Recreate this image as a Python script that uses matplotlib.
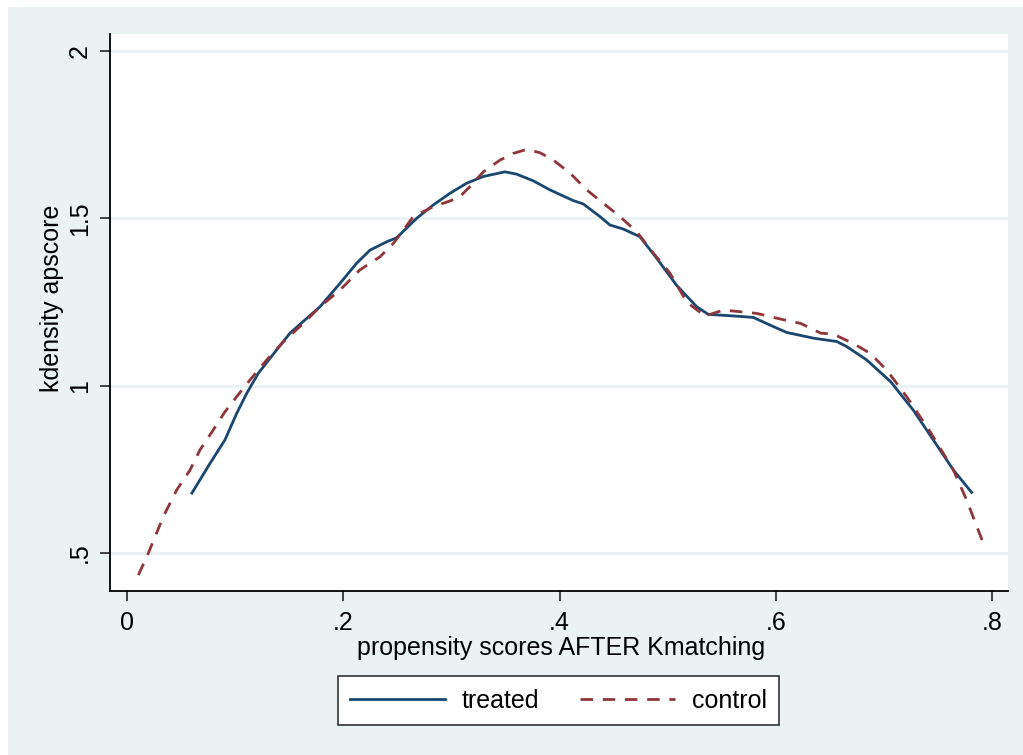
import matplotlib
matplotlib.use("Agg")
import matplotlib.pyplot as plt
from matplotlib.patches import Rectangle
from matplotlib.lines import Line2D

plt.rcParams['font.family'] = ['Liberation Sans', 'DejaVu Sans']

# Data
treated_x = [0.060, 0.0768, 0.0906, 0.1014, 0.1107, 0.1214, 0.1384, 0.1507, 0.1785,
             0.1970, 0.2124, 0.2247, 0.2401, 0.2494, 0.2678, 0.2832, 0.2987, 0.3141,
             0.3295, 0.3495, 0.3603, 0.3757, 0.3911, 0.4127, 0.4219, 0.4374, 0.4466,
             0.4589, 0.4743, 0.4897, 0.5082, 0.5267, 0.5375, 0.5576, 0.5791, 0.5946,
             0.6100, 0.6346, 0.6562, 0.6654, 0.6839, 0.7061, 0.7270, 0.7455, 0.7641,
             0.7810]
treated_y = [0.679, 0.768, 0.838, 0.917, 0.977, 1.037, 1.107, 1.157, 1.236,
             1.306, 1.366, 1.405, 1.430, 1.442, 1.500, 1.540, 1.575, 1.605,
             1.625, 1.639, 1.632, 1.612, 1.585, 1.553, 1.543, 1.505, 1.480,
             1.468, 1.445, 1.381, 1.300, 1.236, 1.213, 1.209, 1.204, 1.181,
             1.159, 1.142, 1.132, 1.117, 1.077, 1.012, 0.927, 0.838, 0.748,
             0.681]

control_x = [0.0105, 0.0197, 0.0336, 0.0459, 0.0583, 0.0675, 0.0798, 0.0906, 0.1014,
             0.1137, 0.1292, 0.1445, 0.1630, 0.1785, 0.1970, 0.2154, 0.2339, 0.2463,
             0.2647, 0.2832, 0.2987, 0.3079, 0.3171, 0.3295, 0.3449, 0.3572, 0.3696,
             0.3819, 0.3942, 0.4097, 0.4251, 0.4404, 0.4559, 0.4713, 0.4867, 0.5021,
             0.5175, 0.5344, 0.5514, 0.5668, 0.5822, 0.6044, 0.6229, 0.6414, 0.6531,
             0.6716, 0.6870, 0.7024, 0.7209, 0.7425, 0.7641, 0.7764, 0.7918]
control_y = [0.434, 0.499, 0.609, 0.688, 0.748, 0.808, 0.868, 0.922, 0.967,
             1.017, 1.077, 1.131, 1.186, 1.236, 1.286, 1.346, 1.385, 1.425,
             1.505, 1.535, 1.552, 1.565, 1.595, 1.639, 1.674, 1.694, 1.706,
             1.696, 1.674, 1.635, 1.585, 1.545, 1.505, 1.460, 1.396, 1.336,
             1.250, 1.208, 1.226, 1.221, 1.216, 1.199, 1.186, 1.157, 1.154,
             1.126, 1.097, 1.047, 0.967, 0.863, 0.748, 0.658, 0.529]

x_ticks = [0, 0.2, 0.4, 0.6, 0.8]
x_tick_labels = ["0", ".2", ".4", ".6", ".8"]
y_ticks = [0.5, 1, 1.5, 2]
y_tick_labels = [".5", "1", "1.5", "2"]

W, H = 1023, 755
BG = "#EAF2F3"
NAVY = "#1A476F"
MAROON = "#90353B"
FS = 18

fig = plt.figure(figsize=(W / 100, H / 100), dpi=100)
fig.patch.set_facecolor("white")
fig.patches.append(Rectangle((8 / W, 0), 1 - 8 / W, (H - 7) / H,
                             transform=fig.transFigure, facecolor=BG,
                             edgecolor="none", zorder=-10))

ax = fig.add_axes([110 / W, (H - 591) / H, 898 / W, 557 / H])
ax.set_zorder(5)
ax.set_facecolor("white")
ax.set_xlim(-0.0157, 0.8146)
ax.set_ylim(0.3865, 2.0508)

for yt in y_ticks:
    ax.axhline(yt, color=BG, lw=2.2, zorder=1)

ax.plot(treated_x, treated_y, color=NAVY, lw=2.0, zorder=3, label="treated")
ax.plot(control_x, control_y, color=MAROON, lw=2.0, zorder=3,
        dashes=(4.5, 3.5), label="control")

for s in ["top", "right"]:
    ax.spines[s].set_visible(False)
for s in ["left", "bottom"]:
    ax.spines[s].set_color("black")
    ax.spines[s].set_linewidth(1.3)

ax.set_xticks(x_ticks)
ax.set_xticklabels(x_tick_labels, fontsize=FS)
ax.set_yticks(y_ticks)
ax.set_yticklabels(y_tick_labels, fontsize=FS, rotation=90, va="center")
ax.tick_params(axis="both", direction="out", length=7.2, width=1.3,
               color="#333333", pad=7)
ax.tick_params(axis="y", pad=6)

fig.text(561 / W, 1 - 648 / H, "propensity scores AFTER Kmatching",
         ha="center", va="center", fontsize=FS, zorder=6)
fig.text(52 / W, 1 - 298 / H, "kdensity apscore", ha="center", va="center",
         rotation=90, fontsize=FS, zorder=6)

handles = [Line2D([], [], color=NAVY, lw=2.0),
           Line2D([], [], color=MAROON, lw=2.0, dashes=(4.5, 3.5))]
leg = fig.legend(handles, ["treated", "control"], loc="center",
                 bbox_to_anchor=(558.5 / W, 1 - 700.5 / H), ncol=2,
                 fontsize=FS, frameon=True, fancybox=False, handlelength=3.8,
                 columnspacing=1.65, handletextpad=0.65, borderpad=0.5,
                 framealpha=1.0)
leg.set_zorder(6)
leg.get_frame().set_edgecolor("#333333")
leg.get_frame().set_linewidth(1.2)
leg.get_frame().set_facecolor("white")

fig.savefig("out.png", dpi=100, facecolor=fig.get_facecolor())
